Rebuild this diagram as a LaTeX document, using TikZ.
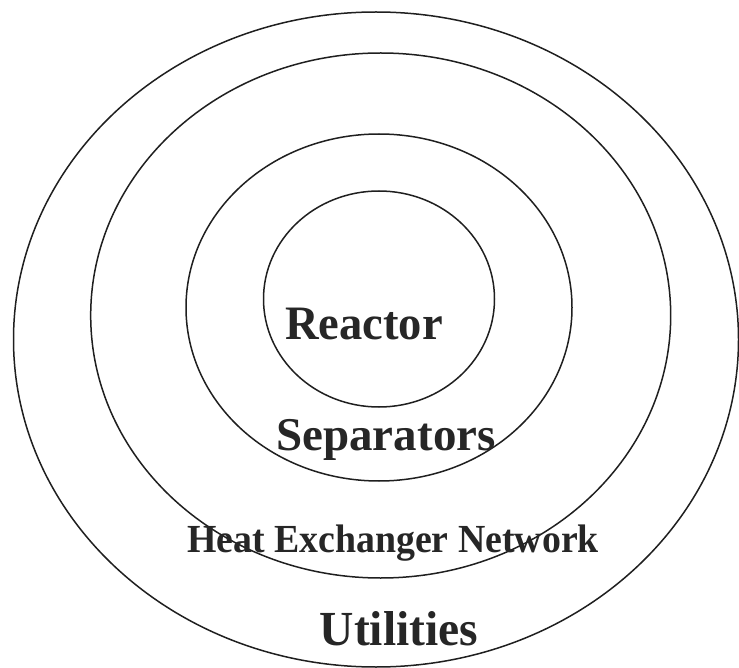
\documentclass[tikz,border=0pt]{standalone}
\usepackage{fontspec}
\setmainfont{Liberation Serif}
\begin{document}
\begin{tikzpicture}[x=1pt,y=-1pt,
  ring/.style={draw=black!88, line width=1.5pt},
  lbl/.style={anchor=base, inner sep=0pt, text=black!85, font=\bfseries}]
\useasboundingbox (0,0) rectangle (739,668);
\draw[ring] (376,339.5) ellipse [x radius=362.5, y radius=327.5];
\draw[ring] (380.7,315.5) ellipse [x radius=290, y radius=262.5];
\draw[ring] (379,307.5) ellipse [x radius=193, y radius=173.5];
\draw[ring] (379,299) ellipse [x radius=115.5, y radius=108];
\node[lbl, xscale=0.97, transform shape, font=\bfseries\fontsize{48}{50}\selectfont] (reactor) at (364,340) {Reactor};
\node[lbl, font=\bfseries\fontsize{47}{50}\selectfont] (sep) at (386,450) {Separators};
\node[lbl, xscale=0.95, transform shape, font=\bfseries\fontsize{39.8}{42}\selectfont] (hen) at (393,552) {Heat Exchanger Network};
\node[lbl, xscale=0.97, transform shape, font=\bfseries\fontsize{49}{50}\selectfont] (util) at (399,645) {Utilities};
\end{tikzpicture}
\end{document}
